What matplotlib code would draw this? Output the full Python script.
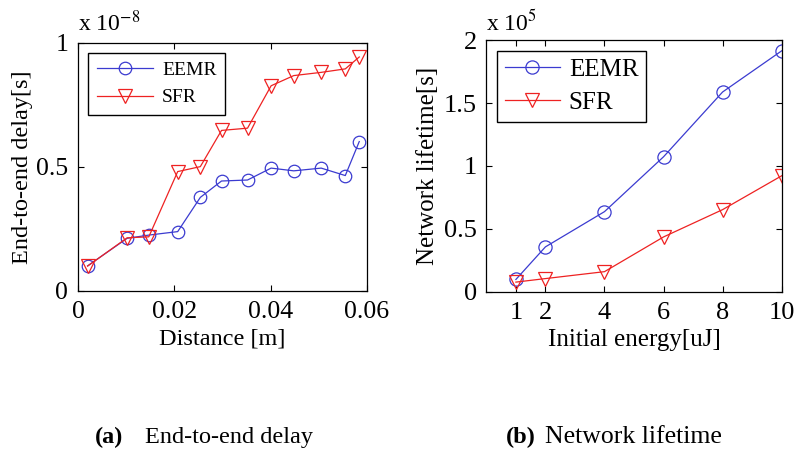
import matplotlib
matplotlib.use('Agg')
import matplotlib.pyplot as plt

plt.rcParams['font.family'] = ['Liberation Serif', 'DejaVu Serif']
plt.rcParams['mathtext.fontset'] = 'stix'

# (a) end-to-end delay vs distance (delay in units of 1e-8 s)
dist = [0.0020, 0.0102, 0.0147, 0.0207, 0.0254, 0.0298, 0.0352, 0.0401, 0.0448, 0.0505, 0.0555, 0.0584]
delay_eemr = [0.101, 0.212, 0.225, 0.239, 0.377, 0.443, 0.447, 0.495, 0.484, 0.495, 0.465, 0.602]
delay_sfr = [0.100, 0.214, 0.218, 0.481, 0.501, 0.647, 0.656, 0.827, 0.868, 0.881, 0.895, 0.943]

# (b) network lifetime vs initial energy (lifetime in units of 1e5 s)
energy = [1, 2, 4, 6, 8, 10]
life_eemr = [0.098, 0.357, 0.637, 1.073, 1.588, 1.915]
life_sfr = [0.077, 0.105, 0.160, 0.436, 0.653, 0.922]

blue = '#3b3bd0'
red = '#ee2222'

fig = plt.figure(figsize=(7.96, 4.51), dpi=100)
ax1 = fig.add_axes([0.098, 0.355, 0.363, 0.550])
ax2 = fig.add_axes([0.611, 0.353, 0.371, 0.558])

def style(ax, tfs, lfs, anchor, hl, htp, ls, bp):
    ax.tick_params(direction='in', top=True, right=True, labelsize=tfs, length=4, width=0.8, pad=7)
    for s in ax.spines.values():
        s.set_linewidth(0.9)
    leg = ax.legend(loc='upper left', fontsize=lfs, fancybox=False, edgecolor='black',
                    framealpha=1, handlelength=hl, handletextpad=htp, borderpad=bp,
                    labelspacing=ls, borderaxespad=0, bbox_to_anchor=anchor)
    leg.get_frame().set_linewidth(1.0)

ax1.plot(dist, delay_eemr, '-o', color=blue, lw=0.9, ms=9, mfc='none', mew=0.9, label='EEMR')
ax1.plot(dist, delay_sfr, '-v', color=red, lw=0.9, ms=10, mfc='none', mew=0.9, label='SFR')
ax1.set_xlim(0, 0.06)
ax1.set_ylim(0, 1)
ax1.set_xticks([0, 0.02, 0.04, 0.06])
ax1.set_xticklabels(['0', '0.02', '0.04', '0.06'])
ax1.set_yticks([0, 0.5, 1])
ax1.set_yticklabels(['0', '0.5', '1'])
ax1.set_xlabel('Distance [m]', fontsize=17.5, labelpad=4)
ax1.set_ylabel('End-to-end delay[s]', fontsize=17.5, labelpad=2)
ax1.text(0.0, 1.025, r'x 10$^{-8}$', transform=ax1.transAxes, fontsize=17, ha='left', va='bottom')
style(ax1, 18.5, 14, (0.035, 0.96), 2.9, 0.46, 0.5, 0.45)

ax2.plot(energy, life_eemr, '-o', color=blue, lw=0.9, ms=9.5, mfc='none', mew=0.9, label='EEMR')
ax2.plot(energy, life_sfr, '-v', color=red, lw=0.9, ms=10.5, mfc='none', mew=0.9, label='SFR')
ax2.set_xlim(0, 10)
ax2.set_ylim(0, 2)
ax2.set_xticks(energy)
ax2.set_yticks([0, 0.5, 1, 1.5, 2])
ax2.set_yticklabels(['0', '0.5', '1', '1.5', '2'])
ax2.set_xlabel('Initial energy[uJ]', fontsize=18, labelpad=4)
ax2.set_ylabel('Network lifetime[s]', fontsize=18, labelpad=3)
ax2.text(0.0, 1.02, r'x 10$^{5}$', transform=ax2.transAxes, fontsize=17, ha='left', va='bottom')
style(ax2, 19, 18, (0.037, 0.956), 2.2, 0.36, 0.42, 0.3)

fig.text(95 / 796, 0.018, '(a)', fontsize=17.5, fontweight='bold', ha='left', va='baseline')
fig.text(145 / 796, 0.018, 'End-to-end delay', fontsize=17.5, ha='left', va='baseline')
fig.text(506 / 796, 0.018, '(b)', fontsize=17.5, fontweight='bold', ha='left', va='baseline')
fig.text(545 / 796, 0.018, 'Network lifetime', fontsize=18.5, ha='left', va='baseline')

fig.savefig('out.png', dpi=100)
